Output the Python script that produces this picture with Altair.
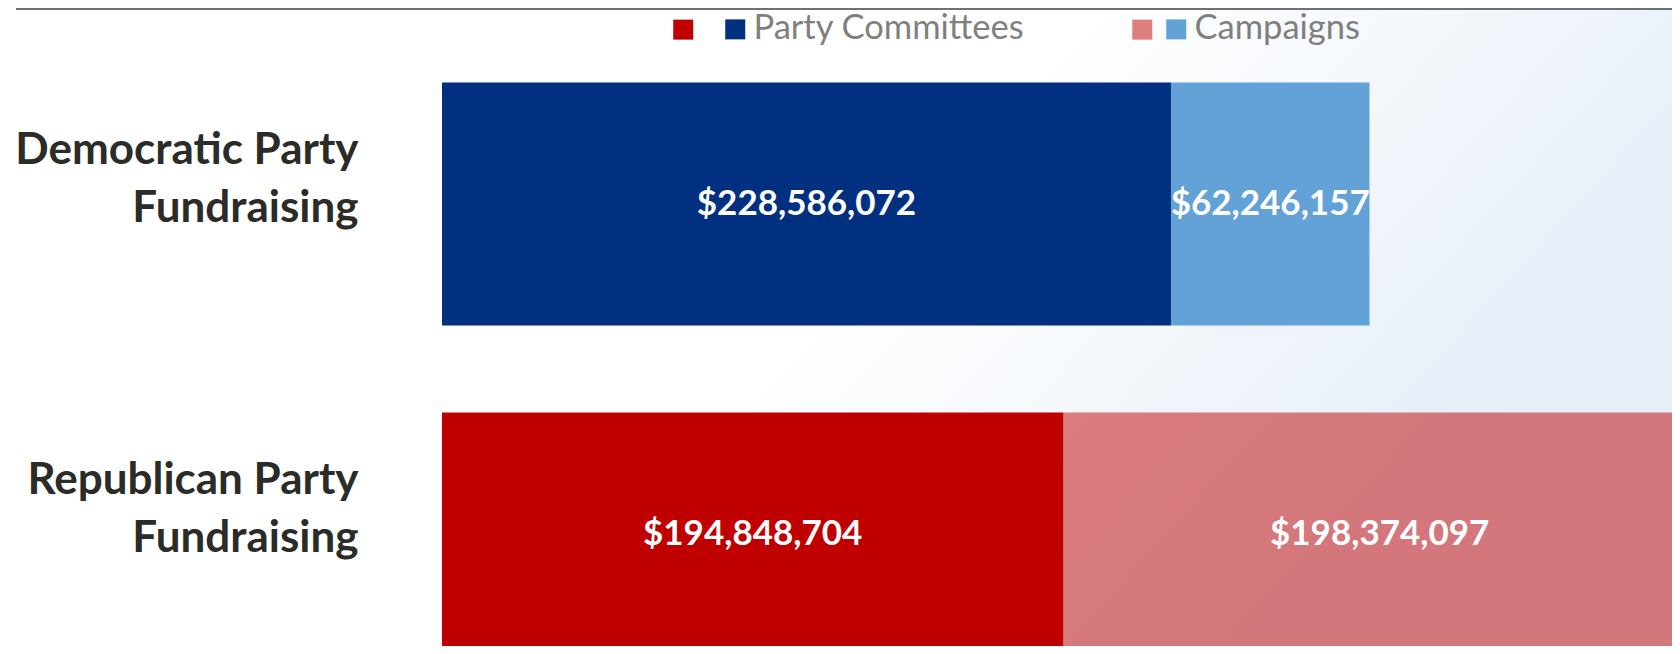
import altair as alt
import pandas as pd

# ---- data ----
parties = ["Democratic Party Fundraising", "Democratic Party Fundraising",
           "Republican Party Fundraising", "Republican Party Fundraising"]
sources = ["Party Committees", "Campaigns", "Party Committees", "Campaigns"]
amounts = [228586072, 62246157, 194848704, 198374097]
keys = ["D-PC", "D-C", "R-PC", "R-C"]
stack_order = [0, 1, 0, 1]

category_order = ["Democratic Party Fundraising", "Republican Party Fundraising"]
bar_keys = ["D-PC", "D-C", "R-PC", "R-C"]
bar_colors = ["#013080", "#62A2D6", "#C00000", "rgba(192,0,0,0.5)"]

legend_sources = ["Party Committees", "Campaigns"]
dem_legend_colors = ["#013080", "#62A2D6"]
rep_legend_keys = ["R-PC", "R-C"]
rep_legend_colors = ["#C00000", "rgba(192,0,0,0.5)"]

df = pd.DataFrame({"party": parties, "source": sources, "amount": amounts,
                   "key": keys, "order": stack_order})

PLOT_W = 1230
PLOT_H = 638

y_enc = alt.Y(
    "party:N",
    sort=category_order,
    scale=alt.Scale(range=[0, 722], paddingInner=0.264, paddingOuter=0.2258),
    axis=alt.Axis(
        title=None, ticks=False, domain=False, grid=False,
        labelPadding=84, labelAlign="right", labelBaseline="middle",
        labelFont="Lato", labelFontSize=44, labelFontWeight="bold",
        labelColor="#2B2B28", labelLineHeight=58, labelOffset=-53,
        labelLimit=500,
        labelExpr="datum.value == 'Democratic Party Fundraising' ? "
                  "['Democratic Party', 'Fundraising'] : "
                  "['Republican Party', 'Fundraising']",
    ),
)

x_scale = alt.Scale(domain=[0, 385.7e6], nice=False, zero=True)

base = alt.Chart(df).transform_stack(
    stack="amount", groupby=["party"], as_=["x0", "x1"],
    sort=[alt.SortField("order", order="ascending")],
).transform_calculate(mid="(datum.x0 + datum.x1) / 2")

bars = base.mark_bar(clip=True).encode(
    y=y_enc,
    x=alt.X("x0:Q", scale=x_scale, axis=None),
    x2="x1:Q",
    color=alt.Color("key:N",
                    scale=alt.Scale(domain=bar_keys, range=bar_colors),
                    legend=None),
)

texts = base.mark_text(
    color="white", font="Lato", fontWeight="bold", fontSize=35,
    align="center", baseline="middle",
).encode(
    y=alt.Y("party:N", sort=category_order),
    x=alt.X("mid:Q", scale=x_scale),
    text=alt.Text("amount:Q", format="$,.0f"),
)

# legend: Democratic shades with labels
leg_d = alt.Chart(pd.DataFrame({"dem_src": legend_sources})).mark_square(
    filled=True
).encode(
    x=alt.value(-3000), y=alt.value(-3000),
    fill=alt.Fill(
        "dem_src:N",
        scale=alt.Scale(domain=legend_sources, range=dem_legend_colors),
        legend=alt.Legend(
            orient="none", legendX=276, legendY=4, direction="horizontal",
            title=None, symbolType="square", symbolSize=400,
            symbolStrokeWidth=0, symbolOpacity=1, labelFont="Lato",
            labelFontSize=34.5, labelColor="#7F7F7F", labelOffset=1,
            columnPadding=134, padding=0, labelLimit=800,
        ),
    ),
)

# legend: Republican shades, symbols only
leg_r = alt.Chart(pd.DataFrame({"rep_src": rep_legend_keys})).mark_square(
    filled=False, strokeWidth=10
).encode(
    x=alt.value(-3000), y=alt.value(-3000),
    stroke=alt.Stroke(
        "rep_src:N",
        scale=alt.Scale(domain=rep_legend_keys, range=rep_legend_colors),
        legend=alt.Legend(
            orient="none", legendX=224, legendY=4, direction="horizontal",
            title=None, symbolType="square", symbolSize=100,
            symbolStrokeWidth=10, symbolOpacity=1, labelFont="Lato",
            labelFontSize=34.5, labelColor="#7F7F7F", labelOffset=1,
            columnPadding=408, padding=0, labelExpr="''",
        ),
    ),
)

one = pd.DataFrame({"k": [0]})

top_line = alt.Chart(one).mark_rule(
    color="#707070", strokeWidth=2
).encode(x=alt.value(-426), x2=alt.value(PLOT_W), y=alt.value(1))

bg = alt.LinearGradient(
    gradient="linear",
    stops=[alt.GradientStop(color="#FFFFFF", offset=0),
           alt.GradientStop(color="#FFFFFF", offset=0.3),
           alt.GradientStop(color="#E6EEF8", offset=1)],
    x1=0.25, y1=0, x2=1, y2=0.35,
)

background = alt.Chart(one).mark_rect(color=bg).encode(
    x=alt.value(0), x2=alt.value(PLOT_W), y=alt.value(0), y2=alt.value(PLOT_H)
)

chart = alt.layer(background, bars, texts, leg_r, leg_d, top_line).properties(
    width=PLOT_W, height=PLOT_H,
    autosize=alt.AutoSizeParams(type="none"),
    padding={"left": 434, "top": 0, "right": 0, "bottom": 0},
).configure_view(stroke=None)

chart.save("out.html", embed_options={"renderer": "svg", "actions": False})
